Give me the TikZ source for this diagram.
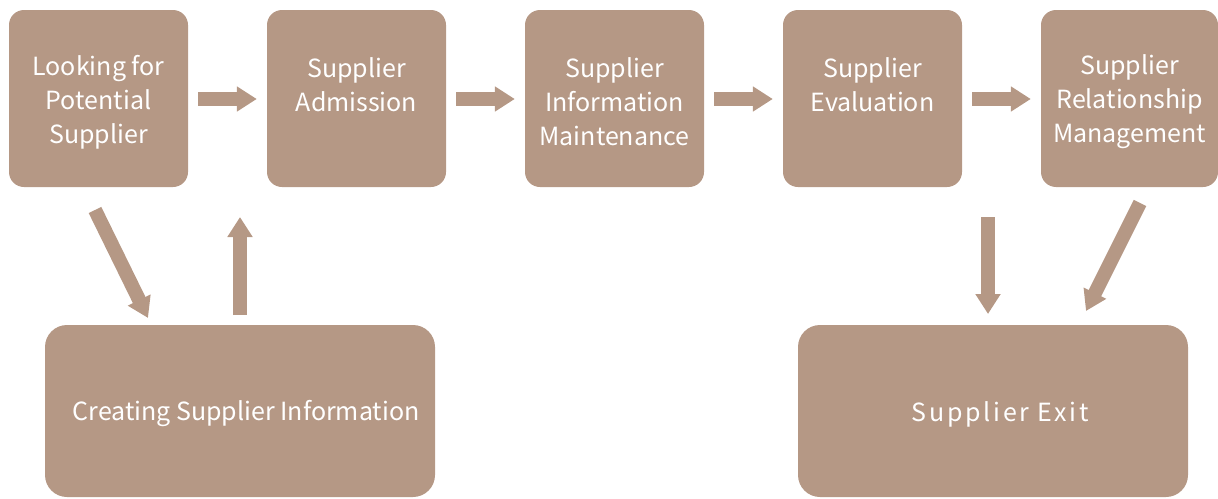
\documentclass[tikz,border=0pt]{standalone}
\usepackage{fontspec}
\setmainfont{Noto Sans CJK SC}
\usetikzlibrary{arrows.meta}
\definecolor{tan}{HTML}{B59885}
\tikzset{
  box/.style={fill=tan, rounded corners=15pt, inner sep=0pt},
  lbl/.style={text=white, align=center, inner sep=0pt, font=\fontsize{25}{34}\selectfont},
  bigbox/.style={box, rounded corners=22pt, minimum width=390pt, minimum height=172pt},
  topbox/.style={box, minimum width=179pt, minimum height=177pt},
  blk/.style={draw=tan, line width=14pt, -{Triangle[width=24pt,length=20pt]}}
}
\begin{document}
\begin{tikzpicture}[x=1pt,y=-1pt]
\useasboundingbox (0,0) rectangle (1218,498);
\node[topbox] (b1) at (98.5,98.5) {};
\node[topbox] (b2) at (356.5,98.5) {};
\node[topbox] (b3) at (614.5,98.5) {};
\node[topbox] (b4) at (872.5,98.5) {};
\node[topbox, minimum width=177pt] (b5) at (1129.5,98.5) {};
\node[lbl] (t1) at ([yshift=-4pt]b1.center) {Looking for\\Potential\\Supplier};
\node[lbl] (t2) at ([yshift=13.5pt]b2.center) {Supplier\\Admission};
\node[lbl] (t3) at ([yshift=-3pt]b3.center) {Supplier\\Information\\Maintenance};
\node[lbl] (t4) at ([yshift=13.5pt]b4.center) {Supplier\\Evaluation};
\node[lbl] (t5) at ([yshift=-3pt]b5.center) {Supplier\\Relationship\\Management};
\node[bigbox] (b6) at (240,411) {};
\node[lbl] (t6) at ([xshift=6pt,yshift=-3pt]b6.center) {Creating Supplier Information};
\node[bigbox] (b7) at (993,411) {};
\node[lbl, font=\fontsize{25}{34}\selectfont\addfontfeature{LetterSpace=11}] (t7) at ([xshift=7pt,yshift=-3pt]b7.center) {Supplier Exit};
\draw[blk] ([xshift=10pt,yshift=-0.5pt]b1.east) -- ([xshift=-10pt,yshift=-0.5pt]b2.west);
\draw[blk] ([xshift=10pt,yshift=-0.5pt]b2.east) -- ([xshift=-10pt,yshift=-0.5pt]b3.west);
\draw[blk] ([xshift=10pt,yshift=-0.5pt]b3.east) -- ([xshift=-10pt,yshift=-0.5pt]b4.west);
\draw[blk] ([xshift=10pt,yshift=-0.5pt]b4.east) -- ([xshift=-10pt,yshift=-0.5pt]b5.west);
\coordinate (a1s) at (95,210);
\coordinate (a1e) at (148,318);
\coordinate (a2s) at (240,315);
\coordinate (a2e) at (240,217);
\coordinate (a3s) at (988,217);
\coordinate (a3e) at (988,314);
\coordinate (a4s) at (1140,203);
\coordinate (a4e) at (1086,311);
\draw[blk] (a1s) -- (a1e);
\draw[blk] (a2s) -- (a2e);
\draw[blk] (a3s) -- (a3e);
\draw[blk] (a4s) -- (a4e);
\end{tikzpicture}
\end{document}
